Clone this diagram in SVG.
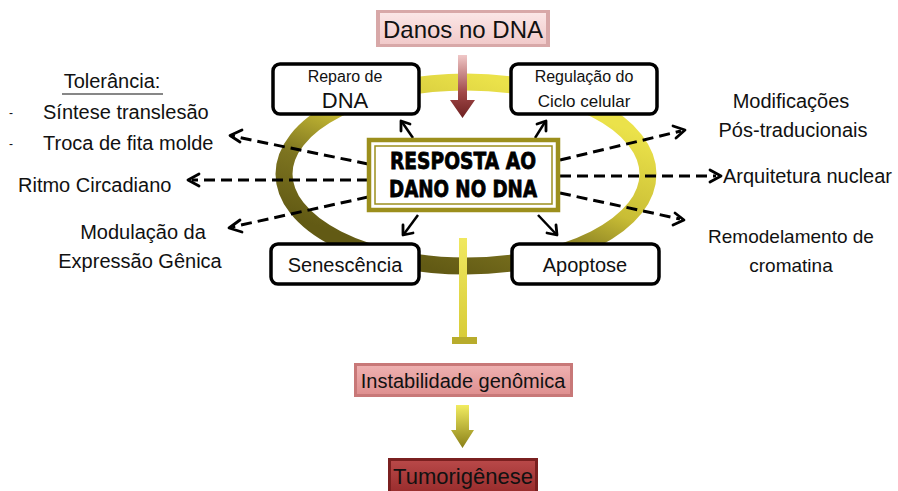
<svg xmlns="http://www.w3.org/2000/svg" width="898" height="491" viewBox="0 0 898 491">
<style>
  .t{font-family:"Liberation Sans",Arial,sans-serif;fill:#111;}
  .box{fill:#fff;stroke:#000;stroke-width:3.5;}
  .dash{fill:none;stroke:#000;stroke-width:3;stroke-dasharray:11 6;}
  .solid{fill:none;stroke:#000;stroke-width:2.5;}
  .head{fill:none;stroke:#000;stroke-width:2.8;stroke-linecap:round;stroke-linejoin:round;}
</style>
<defs>
  <linearGradient id="ring" x1="0.8" y1="0.15" x2="0.25" y2="0.9">
    <stop offset="0" stop-color="#ebe24a"/>
    <stop offset="0.42" stop-color="#c9bd35"/>
    <stop offset="0.7" stop-color="#7d7420"/>
    <stop offset="1" stop-color="#625a14"/>
  </linearGradient>
  <linearGradient id="pink" x1="0" y1="0" x2="0" y2="1">
    <stop offset="0" stop-color="#fbe6e6"/>
    <stop offset="1" stop-color="#f1caca"/>
  </linearGradient>
  <linearGradient id="salmon" x1="0" y1="0" x2="0" y2="1">
    <stop offset="0" stop-color="#eeb0b0"/>
    <stop offset="1" stop-color="#df9090"/>
  </linearGradient>
  <linearGradient id="red" x1="0" y1="0" x2="0" y2="1">
    <stop offset="0" stop-color="#b84848"/>
    <stop offset="1" stop-color="#9a2e2e"/>
  </linearGradient>
  <linearGradient id="downRed" x1="0" y1="0" x2="0" y2="1">
    <stop offset="0" stop-color="#f0c8c8"/>
    <stop offset="0.6" stop-color="#a04848"/>
    <stop offset="1" stop-color="#6e2020"/>
  </linearGradient>
  <linearGradient id="downYel" x1="0" y1="0" x2="0" y2="1">
    <stop offset="0" stop-color="#f2ec60"/>
    <stop offset="1" stop-color="#8a8018"/>
  </linearGradient>
  <linearGradient id="bar" x1="0" y1="0" x2="0" y2="1">
    <stop offset="0" stop-color="#f0e860"/>
    <stop offset="1" stop-color="#d8cc38"/>
  </linearGradient>
</defs>

<!-- ring -->
<g id="ring-cycle">
  <ellipse cx="466" cy="174" rx="182" ry="92" fill="none" stroke="url(#ring)" stroke-width="17"/>
</g>

<!-- connectors -->
<g id="connectors">
  <path d="M458 55 H467 V100 H475 L462.5 118 L450 100 H458 Z" fill="url(#downRed)"/>
  <rect x="459" y="238" width="8" height="99" fill="url(#bar)"/>
  <rect x="452" y="337" width="25" height="7" fill="#b8ac2c"/>
  <path d="M456 405 H469 V430 H474 L462.5 448 L451 430 H456 Z" fill="url(#downYel)"/>

  <path class="dash" d="M368 164 L232 136"/>
  <path class="head" d="M242 130 L230 135.5 L240 142"/>
  <path class="dash" d="M368 180 L192 180"/>
  <path class="head" d="M199 174 L188 180 L199 186"/>
  <path class="dash" d="M368 197 L232 227"/>
  <path class="head" d="M240 220 L229 228 L242 232"/>
  <path class="dash" d="M560 160 L681 131"/>
  <path class="head" d="M673 126 L685 130 L676 138"/>
  <path class="dash" d="M560 176 L716 176"/>
  <path class="head" d="M710 170 L721 176 L710 182"/>
  <path class="dash" d="M560 193 L680 219"/>
  <path class="head" d="M675 213 L684 220 L673 225"/>

  <path class="solid" d="M413 138 L402 122"/>
  <path class="head" d="M401 131 L401 121 L410 124"/>
  <path class="solid" d="M535 138 L545 122"/>
  <path class="head" d="M537 124 L546 121 L546 131"/>
  <path class="solid" d="M418 215 L404 234"/>
  <path class="head" d="M403 225 L403 235 L413 233"/>
  <path class="solid" d="M538 215 L556 234"/>
  <path class="head" d="M547 233 L557 235 L556 225"/>
</g>

<g id="danos">
  <rect x="376" y="10" width="174" height="37" fill="#d8a8a8"/>
  <rect x="380" y="13" width="166" height="31" fill="url(#pink)"/>
  <text class="t" x="463" y="38" font-size="24" text-anchor="middle">Danos no DNA</text>
</g>

<g id="resposta">
  <rect x="369" y="140" width="189" height="70" fill="#fff" stroke="#9c8f1c" stroke-width="4.5"/>
  <rect x="375" y="146" width="177" height="58" fill="none" stroke="#9c8f1c" stroke-width="1.5"/>
  <text x="463" y="169" font-family="DejaVu Sans,Verdana,sans-serif" font-weight="bold" font-size="23" text-anchor="middle" textLength="146" lengthAdjust="spacingAndGlyphs" fill="#000" stroke="#000" stroke-width="0.8">RESPOSTA AO</text>
  <text x="463" y="197" font-family="DejaVu Sans,Verdana,sans-serif" font-weight="bold" font-size="23" text-anchor="middle" textLength="148" lengthAdjust="spacingAndGlyphs" fill="#000" stroke="#000" stroke-width="0.8">DANO NO DNA</text>
</g>

<g id="reparo">
  <rect class="box" x="273" y="64" width="146" height="50" rx="7"/>
  <text class="t" x="345" y="82" font-size="16" text-anchor="middle">Reparo de</text>
  <text class="t" x="345" y="108" font-size="22" text-anchor="middle">DNA</text>
</g>
<g id="regulacao">
  <rect class="box" x="511" y="64" width="146" height="50" rx="7"/>
  <text class="t" x="584" y="82" font-size="16" text-anchor="middle">Regulação do</text>
  <text class="t" x="584" y="107" font-size="17" text-anchor="middle">Ciclo celular</text>
</g>
<g id="senescencia">
  <rect class="box" x="271" y="244" width="148" height="40" rx="7"/>
  <text class="t" x="345" y="272" font-size="20" text-anchor="middle">Senescência</text>
</g>
<g id="apoptose">
  <rect class="box" x="512" y="244" width="147" height="40" rx="7"/>
  <text class="t" x="585" y="272" font-size="20" text-anchor="middle">Apoptose</text>
</g>

<g id="tolerancia">
  <text class="t" x="112" y="88" font-size="20" text-anchor="middle">Tolerância:</text>
  <line x1="62" y1="94" x2="163" y2="94" stroke="#111" stroke-width="1.2"/>
  <text class="t" x="9" y="117" font-size="12">-</text>
  <text class="t" x="43" y="119" font-size="20">Síntese translesão</text>
  <text class="t" x="9" y="148" font-size="12">-</text>
  <text class="t" x="43" y="150" font-size="20">Troca de fita molde</text>
</g>
<g id="ritmo">
  <text class="t" x="18" y="192" font-size="20">Ritmo Circadiano</text>
</g>
<g id="modulacao">
  <text class="t" x="143" y="239" font-size="20" text-anchor="middle">Modulação da</text>
  <text class="t" x="140" y="268" font-size="20" text-anchor="middle">Expressão Gênica</text>
</g>
<g id="modificacoes">
  <text class="t" x="791" y="108" font-size="20" text-anchor="middle">Modificações</text>
  <text class="t" x="793" y="137" font-size="20" text-anchor="middle">Pós-traducionais</text>
</g>
<g id="arquitetura">
  <text class="t" x="723" y="183" font-size="20">Arquitetura nuclear</text>
</g>
<g id="remodelamento">
  <text class="t" x="791" y="243" font-size="19" text-anchor="middle">Remodelamento de</text>
  <text class="t" x="791" y="272" font-size="19" text-anchor="middle">cromatina</text>
</g>

<g id="instabilidade">
  <rect x="354" y="363" width="219" height="34" fill="#c87878"/>
  <rect x="357" y="366" width="213" height="28" fill="url(#salmon)"/>
  <text class="t" x="463" y="388" font-size="20" text-anchor="middle">Instabilidade genômica</text>
</g>
<g id="tumorigenese">
  <rect x="388" y="458" width="150" height="33" fill="#7a2020"/>
  <rect x="391" y="461" width="144" height="30" fill="url(#red)"/>
  <text class="t" x="463" y="484" font-size="22" text-anchor="middle" fill="#111">Tumorigênese</text>
</g>
</svg>
